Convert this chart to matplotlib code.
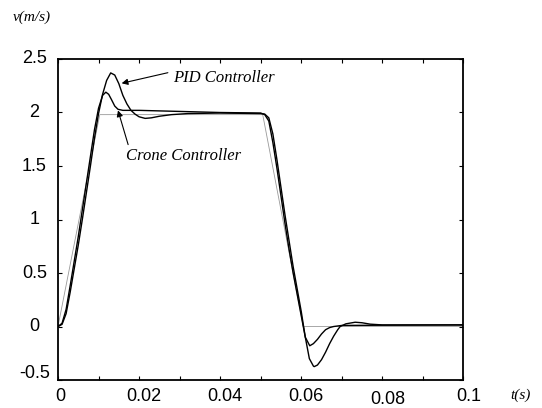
import numpy as np
import matplotlib
matplotlib.use('Agg')
import matplotlib.pyplot as plt
import matplotlib.transforms as mtransforms

# reference speed profile (trapezoid)
ref_t = [0, 0.0103, 0.0505, 0.0605, 0.1]
ref_v = [0, 1.98, 1.98, 0, 0]

# PID controller response
pid_t = [0, 0.001, 0.002, 0.003, 0.004, 0.005, 0.006, 0.007, 0.008, 0.009,
         0.010, 0.011, 0.012, 0.013, 0.014, 0.015, 0.016, 0.017, 0.018, 0.019,
         0.020, 0.0215, 0.023, 0.025, 0.028, 0.032, 0.040, 0.050,
         0.051, 0.052, 0.053, 0.054, 0.055, 0.056, 0.057, 0.058, 0.059, 0.060,
         0.061, 0.062, 0.063, 0.0632, 0.064, 0.065, 0.066, 0.067, 0.068, 0.069,
         0.0696, 0.071, 0.0733, 0.075, 0.077, 0.080, 0.090, 0.1]
pid_v = [0, 0.02, 0.12, 0.32, 0.54, 0.76, 1.0, 1.25, 1.5, 1.76,
         1.99, 2.17, 2.3, 2.37, 2.35, 2.27, 2.16, 2.08, 2.02, 1.985,
         1.96, 1.945, 1.95, 1.965, 1.98, 1.99, 1.995, 1.99,
         1.985, 1.95, 1.8, 1.56, 1.3, 1.04, 0.8, 0.56, 0.35, 0.14,
         -0.1, -0.3, -0.37, -0.375, -0.36, -0.31, -0.24, -0.16, -0.09, -0.03,
         0.0, 0.025, 0.04, 0.035, 0.022, 0.015, 0.015, 0.015]

# Crone controller response
crone_t = [0, 0.001, 0.002, 0.003, 0.004, 0.005, 0.006, 0.007, 0.008, 0.009,
           0.010, 0.011, 0.0118, 0.0125, 0.0132, 0.014, 0.0148, 0.016, 0.020,
           0.030, 0.040, 0.050,
           0.051, 0.052, 0.053, 0.054, 0.055, 0.056, 0.057, 0.058, 0.059, 0.060,
           0.061, 0.0621, 0.063, 0.064, 0.065, 0.066, 0.067, 0.068, 0.070,
           0.080, 0.1]
crone_v = [0, 0.03, 0.16, 0.38, 0.61, 0.84, 1.09, 1.34, 1.59, 1.84,
           2.04, 2.16, 2.19, 2.17, 2.12, 2.06, 2.03, 2.02, 2.02,
           2.01, 2.0, 1.995,
           1.98, 1.92, 1.72, 1.48, 1.22, 0.96, 0.72, 0.5, 0.3, 0.1,
           -0.1, -0.18, -0.16, -0.12, -0.07, -0.03, -0.01, 0.0, 0.01,
           0.012, 0.015]

xticks = [0, 0.02, 0.04, 0.06, 0.08, 0.1]
xtick_labels = ['0', '0.02', '0.04', '0.06', '0.08', '0.1']
yticks = [-0.5, 0, 0.5, 1, 1.5, 2, 2.5]
ytick_labels = ['-0.5', '0', '0.5', '1', '1.5', '2', '2.5']

fig = plt.figure(figsize=(5.42, 4.08), dpi=100)
ax = fig.add_axes([0.107, 0.0686, 0.748, 0.7868])

ax.plot(ref_t, ref_v, color='0.6', lw=0.6)
ax.plot(crone_t, crone_v, color='k', lw=1.0)
ax.plot(pid_t, pid_v, color='k', lw=1.0)

ax.set_xlim(0, 0.1)
ax.set_ylim(-0.5, 2.5)
ax.set_xticks(xticks)
ax.set_xticks(np.arange(0.01, 0.1, 0.02), minor=True)
ax.set_xticklabels(xtick_labels)
ax.set_yticks(yticks)
ax.set_yticklabels(ytick_labels)

ax.tick_params(which='both', direction='in', top=True, right=True,
               length=3, width=0.8, labelsize=13)
ax.tick_params(axis='x', pad=6)
ax.tick_params(axis='y', pad=17)
for lab in ax.get_xticklabels() + ax.get_yticklabels():
    lab.set_fontfamily('Liberation Sans')
for lab in ax.get_yticklabels():
    lab.set_horizontalalignment('center')
for spine in ax.spines.values():
    spine.set_linewidth(1.3)

# small label offsets seen in the original
for i, lab in enumerate(ax.get_xticklabels()):
    dy = -3 if xtick_labels[i] == '0.08' else 0
    dx = 2 if i == 0 else 5
    lab.set_transform(lab.get_transform() + mtransforms.ScaledTranslation(dx / 100, dy / 100, fig.dpi_scale_trans))
for i, lab in enumerate(ax.get_yticklabels()):
    dy = 9 if ytick_labels[i] == '-0.5' else 2
    lab.set_transform(lab.get_transform() + mtransforms.ScaledTranslation(0, dy / 100, fig.dpi_scale_trans))

# annotations
serif_it = dict(family='Liberation Serif', style='italic', fontsize=12)
arrow = dict(arrowstyle='-|>', color='k', lw=0.8, mutation_scale=9, shrinkA=0, shrinkB=0)
ax.annotate('', xy=(0.0157, 2.273), xytext=(0.0271, 2.372), arrowprops=arrow)
ax.text(0.0283, 2.32, 'PID Controller', va='center', ha='left', **serif_it)
ax.annotate('', xy=(0.0148, 2.02), xytext=(0.0173, 1.70), arrowprops=arrow)
ax.text(0.0168, 1.59, 'Crone Controller', va='center', ha='left', **serif_it)

fig.text(13 / 542, 1 - 17.5 / 408, 'v(m/s)', va='center', ha='left',
         family='Liberation Serif', style='italic', fontsize=11)
fig.text(510 / 542, 1 - 395 / 408, 't(s)', va='center', ha='left',
         family='Liberation Serif', style='italic', fontsize=11)

fig.savefig('out.png', dpi=100)
